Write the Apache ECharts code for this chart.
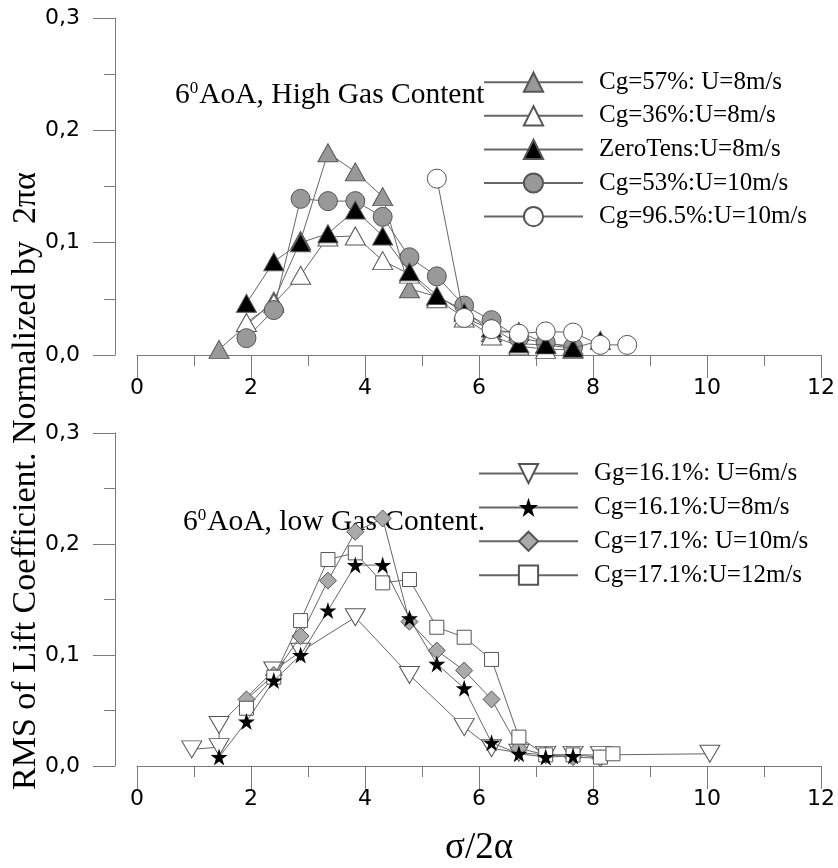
<!DOCTYPE html>
<html>
<head>
<meta charset="utf-8">
<script src="https://cdn.jsdelivr.net/npm/echarts@6/dist/echarts.min.js"></script>
<style>
  html, body { margin: 0; padding: 0; background: #fff; }
  #chart { width: 838px; height: 868px; }
</style>
</head>
<body>
<div id="chart"></div>
<script>
// ---- axis ticks ----
const xTicks = [0, 2, 4, 6, 8, 10, 12];
const yTicks = [0.0, 0.1, 0.2, 0.3];

// ---- upper panel: 6° AoA, high gas content ----
const cg57X = [1.44, 2.40, 2.87, 3.35, 3.83, 4.31, 4.78, 5.26, 5.74, 6.22, 6.70, 7.17, 7.65];
const cg57Y = [0.005, 0.048, 0.102, 0.180, 0.163, 0.141, 0.059, 0.052, 0.040, 0.020, 0.021, 0.010, 0.008];

const cg36X = [1.92, 2.40, 2.87, 3.35, 3.83, 4.31, 4.78, 5.26, 5.74, 6.22, 6.70, 7.17, 7.65];
const cg36Y = [0.029, 0.046, 0.071, 0.105, 0.106, 0.084, 0.072, 0.050, 0.033, 0.017, 0.008, 0.005, 0.005];

const zeroX = [1.92, 2.40, 2.87, 3.35, 3.83, 4.31, 4.78, 5.26, 5.74, 6.22, 6.70, 7.17, 7.65, 8.13];
const zeroY = [0.046, 0.083, 0.100, 0.108, 0.129, 0.106, 0.074, 0.053, 0.038, 0.024, 0.010, 0.009, 0.006, 0.013];

const cg53X = [1.92, 2.40, 2.87, 3.35, 3.83, 4.31, 4.78, 5.26, 5.74, 6.22, 6.70, 7.17, 7.65];
const cg53Y = [0.015, 0.040, 0.139, 0.137, 0.137, 0.123, 0.087, 0.070, 0.044, 0.031, 0.015, 0.011, 0.007];

const cg965X = [5.26, 5.74, 6.22, 6.70, 7.17, 7.65, 8.13, 8.60];
const cg965Y = [0.157, 0.033, 0.023, 0.019, 0.021, 0.020, 0.009, 0.009];

// ---- lower panel: 6° AoA, low gas content ----
const gg6X = [0.96, 1.44, 1.44, 2.40, 2.87, 3.83, 4.78, 5.74, 6.22, 6.70, 7.17, 7.65, 8.13, 10.05];
const gg6Y = [0.015, 0.017, 0.037, 0.086, 0.103, 0.134, 0.082, 0.035, 0.016, 0.012, 0.010, 0.010, 0.010, 0.011];

const cg8X = [1.44, 1.92, 2.40, 2.87, 3.35, 3.83, 4.31, 4.78, 5.26, 5.74, 6.22, 6.70, 7.17, 7.65];
const cg8Y = [0.008, 0.040, 0.077, 0.100, 0.140, 0.181, 0.181, 0.133, 0.092, 0.070, 0.021, 0.011, 0.008, 0.009];

const cg10X = [1.92, 2.40, 2.87, 3.35, 3.83, 4.31, 4.78, 5.26, 5.74, 6.22, 6.70, 7.17, 7.65, 8.13];
const cg10Y = [0.060, 0.082, 0.117, 0.167, 0.211, 0.223, 0.130, 0.104, 0.086, 0.060, 0.016, 0.010, 0.008, 0.007];

const cg12X = [1.92, 2.40, 2.87, 3.35, 3.83, 4.31, 4.78, 5.26, 5.74, 6.22, 6.70, 7.17, 7.65, 8.13, 8.35];
const cg12Y = [0.052, 0.080, 0.131, 0.186, 0.192, 0.165, 0.168, 0.125, 0.116, 0.096, 0.026, 0.010, 0.010, 0.008, 0.011];

const topNames = ['Cg=57%: U=8m/s', 'Cg=36%:U=8m/s', 'ZeroTens:U=8m/s', 'Cg=53%:U=10m/s', 'Cg=96.5%:U=10m/s'];
const bottomNames = ['Gg=16.1%: U=6m/s', 'Cg=16.1%:U=8m/s', 'Cg=17.1%: U=10m/s', 'Cg=17.1%:U=12m/s'];

const zip = (xs, ys) => xs.map((x, i) => [x, ys[i]]);

const SERIF = 'Liberation Serif';
const SANS = 'DejaVu Sans';
const AXIS_COLOR = '#7a7a7a';
const LINE_COLOR = '#666';
const STAR = 'path://M50,0 L61.2,34.5 L97.6,34.5 L68.2,55.9 L79.4,90.5 L50,69.1 L20.6,90.5 L31.8,55.9 L2.4,34.5 L38.8,34.5 Z';

function xAxisFor(gridIndex, withName) {
  return {
    type: 'value', gridIndex, min: 0, max: 12, interval: 2,
    axisLine: { show: true, onZero: false, lineStyle: { color: AXIS_COLOR, width: 1 } },
    axisTick: { show: true, length: 23, lineStyle: { color: AXIS_COLOR } },
    minorTick: { show: true, splitNumber: 2, length: 11, lineStyle: { color: AXIS_COLOR } },
    splitLine: { show: false },
    axisLabel: { fontFamily: SANS, fontSize: 22, color: '#000', margin: 22,
                 formatter: v => xTicks.includes(v) ? String(v) : '' },
    name: withName ? 'σ/2α' : '',
    nameLocation: 'middle', nameGap: 64,
    nameTextStyle: { fontFamily: SERIF, fontSize: 37, color: '#000' }
  };
}

function yAxisFor(gridIndex) {
  return {
    type: 'value', gridIndex, min: 0, max: 0.3, interval: 0.1, offset: 22,
    axisLine: { show: true, onZero: false, lineStyle: { color: AXIS_COLOR, width: 1 } },
    axisTick: { show: true, length: 22, lineStyle: { color: AXIS_COLOR } },
    minorTick: { show: true, splitNumber: 2, length: 11, lineStyle: { color: AXIS_COLOR } },
    splitLine: { show: false },
    axisLabel: { fontFamily: SANS, fontSize: 22, color: '#000', margin: 35,
                 formatter: v => {
                   const t = yTicks.find(k => Math.abs(k - v) < 1e-9);
                   return t === undefined ? '' : t.toFixed(1).replace('.', ',');
                 } }
  };
}

function lineSeries(name, gridIdx, xs, ys, symbol, size, fill, extra) {
  return Object.assign({
    name, type: 'line', xAxisIndex: gridIdx, yAxisIndex: gridIdx,
    data: zip(xs, ys),
    symbol, symbolSize: size, showAllSymbol: true,
    lineStyle: { color: LINE_COLOR, width: 1 },
    itemStyle: { color: fill, borderColor: '#555', borderWidth: 1, opacity: 1 },
    emphasis: { disabled: true },
    animation: false
  }, extra || {});
}

const legendCommon = {
  orient: 'vertical', itemWidth: 99, itemHeight: 24, padding: 0,
  textStyle: { fontFamily: SERIF, fontSize: 25, lineHeight: 24, color: '#000', padding: [0, 0, 0, 11] },
  selectedMode: false
};

const rich = {
  a: { fontFamily: SERIF, fontSize: 29.5, fill: '#000' },
  s: { fontFamily: SERIF, fontSize: 17, fill: '#000', verticalAlign: 'top', padding: [0, 1, 12, 0] }
};

const option = {
  backgroundColor: '#fff',
  animation: false,
  grid: [
    { left: 137, top: 18, width: 685, height: 337 },
    { left: 137, top: 433, width: 685, height: 336 }
  ],
  xAxis: [xAxisFor(0, false), xAxisFor(1, true)],
  yAxis: [yAxisFor(0), yAxisFor(1)],
  legend: [
    Object.assign({ data: topNames, left: 483, top: 69.7, itemGap: 8.6 }, legendCommon),
    Object.assign({ data: bottomNames, left: 478, top: 461, itemGap: 8.9 }, legendCommon)
  ],
  graphic: [
    { type: 'text', left: 175, top: 80, style: { rich, text: '{a|6}{s|0}{a|AoA, High Gas Content}' } },
    { type: 'text', left: 183, top: 507, style: { rich, text: '{a|6}{s|0}{a|AoA, low Gas Content.}' } },
    { type: 'text', x: 26, y: 790, rotation: Math.PI / 2, style: {
        text: 'RMS of Lift Coefficient. Normalized by  2πα',
        fontFamily: SERIF, fontSize: 34, fill: '#000',
        align: 'left', verticalAlign: 'middle' } }
  ],
  series: [
    lineSeries(topNames[0], 0, cg57X, cg57Y, 'triangle', [20, 18], '#999999', { z: 2 }),
    lineSeries(topNames[1], 0, cg36X, cg36Y, 'triangle', [20, 18], '#ffffff', { z: 3 }),
    lineSeries(topNames[2], 0, zeroX, zeroY, 'triangle', [20, 18], '#000000', { z: 4 }),
    lineSeries(topNames[3], 0, cg53X, cg53Y, 'circle', 19, '#999999', { z: 3 }),
    lineSeries(topNames[4], 0, cg965X, cg965Y, 'circle', 19, '#ffffff', { z: 5 }),
    lineSeries(bottomNames[0], 1, gg6X, gg6Y, 'triangle', [20, 17], '#ffffff', { symbolRotate: 180, z: 2 }),
    lineSeries(bottomNames[1], 1, cg8X, cg8Y, STAR, 17, '#000000', { z: 6, itemStyle: { color: '#000', borderColor: '#000', borderWidth: 0 } }),
    lineSeries(bottomNames[2], 1, cg10X, cg10Y, 'diamond', 17, '#aaaaaa', { z: 3 }),
    lineSeries(bottomNames[3], 1, cg12X, cg12Y, 'rect', 14, '#ffffff', { z: 4 })
  ]
};

const chart = echarts.init(document.getElementById('chart'), null, { renderer: 'canvas' });
chart.setOption(option);
</script>
</body>
</html>
